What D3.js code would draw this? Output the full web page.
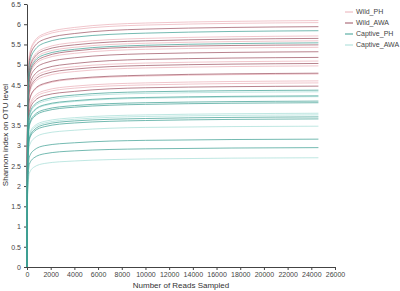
<!DOCTYPE html>
<html>
<head>
<meta charset="utf-8">
<script src="https://cdn.jsdelivr.net/npm/d3@7"></script>
<style>
  body { margin: 0; background: #fff; }
  svg { display: block; font-family: "Liberation Sans", Arial, sans-serif; }
</style>
</head>
<body>
<svg id="chart" width="400" height="291"></svg>
<script>
// sampling depths (reads) shared by every curve
const depths = [0, 40, 200, 600, 1500, 4000, 10000, 24600];

const groups = ['Wild_PH', 'Wild_AWA', 'Captive_PH', 'Captive_AWA'];

const wildPH = [
  [0, 3.65, 5.24, 5.57, 5.77, 5.92, 6.03, 6.09],
  [0, 3.62, 5.19, 5.53, 5.73, 5.87, 5.98, 6.04],
  [0, 3.43, 4.91, 5.22, 5.41, 5.55, 5.65, 5.71],
  [0, 3.35, 4.81, 5.11, 5.30, 5.43, 5.53, 5.59],
  [0, 3.26, 4.67, 4.97, 5.15, 5.28, 5.38, 5.43],
  [0, 3.05, 4.38, 4.66, 4.83, 4.95, 5.04, 5.09],
  [0, 2.98, 4.27, 4.55, 4.71, 4.83, 4.92, 4.97],
  [0, 2.86, 4.10, 4.36, 4.52, 4.64, 4.72, 4.77],
  [0, 2.76, 3.96, 4.21, 4.36, 4.47, 4.55, 4.60],
  [0, 2.73, 3.91, 4.16, 4.31, 4.42, 4.50, 4.55]
];
const wildAWA = [
  [0, 3.56, 5.11, 5.44, 5.63, 5.77, 5.88, 5.94],
  [0, 3.39, 4.86, 5.17, 5.36, 5.49, 5.59, 5.65],
  [0, 3.29, 4.72, 5.02, 5.20, 5.34, 5.44, 5.49],
  [0, 3.19, 4.58, 4.87, 5.04, 5.17, 5.27, 5.32],
  [0, 3.11, 4.45, 4.74, 4.91, 5.03, 5.13, 5.18],
  [0, 3.02, 4.33, 4.60, 4.77, 4.89, 4.98, 5.03],
  [0, 2.87, 4.12, 4.38, 4.54, 4.66, 4.74, 4.79],
  [0, 2.68, 3.84, 4.09, 4.24, 4.34, 4.43, 4.47]
];
const captivePH = [
  [0, 3.50, 5.02, 5.34, 5.54, 5.68, 5.78, 5.84],
  [0, 3.32, 4.76, 5.07, 5.25, 5.38, 5.48, 5.54],
  [0, 2.62, 3.76, 4.00, 4.14, 4.25, 4.33, 4.37],
  [0, 2.54, 3.64, 3.87, 4.01, 4.11, 4.19, 4.23],
  [0, 2.46, 3.53, 3.75, 3.89, 3.99, 4.06, 4.10],
  [0, 2.44, 3.49, 3.71, 3.85, 3.95, 4.02, 4.06],
  [0, 2.23, 3.19, 3.39, 3.52, 3.61, 3.67, 3.71],
  [0, 2.20, 3.15, 3.35, 3.47, 3.56, 3.62, 3.66],
  [0, 1.90, 2.72, 2.89, 3.00, 3.07, 3.13, 3.16],
  [0, 1.77, 2.54, 2.70, 2.80, 2.87, 2.92, 2.95]
];
const captiveAWA = [
  [0, 2.60, 3.72, 3.96, 4.10, 4.21, 4.29, 4.33],
  [0, 2.53, 3.62, 3.85, 3.99, 4.09, 4.17, 4.21],
  [0, 2.28, 3.27, 3.48, 3.60, 3.69, 3.76, 3.80],
  [0, 2.26, 3.23, 3.44, 3.56, 3.65, 3.72, 3.76],
  [0, 2.09, 2.99, 3.18, 3.30, 3.38, 3.45, 3.48],
  [0, 1.62, 2.32, 2.47, 2.56, 2.62, 2.67, 2.70]
];

const yTicks = [0, 0.5, 1, 1.5, 2, 2.5, 3, 3.5, 4, 4.5, 5, 5.5, 6, 6.5];
const xTicks = d3.range(0, 26001, 2000);

const colors = {
  'Wild_PH': '#eab0b8',
  'Wild_AWA': '#9c5262',
  'Captive_PH': '#3d9f93',
  'Captive_AWA': '#a6ddd7'
};

const svg = d3.select('#chart');

var x = d3.scaleLinear()
    .domain([0, 26000])
    .range([27, 335]);

var y = d3.scaleLinear()
    .domain([0, 6.5])
    .range([267, 4]);

/////////////////////////////
// AXES
/////////////////////////////
const xAxis = svg.append('g')
    .attr('transform', 'translate(0,267)')
    .call(d3.axisBottom(x).tickValues(xTicks).tickFormat(d3.format('d')).tickSize(3).tickSizeOuter(0));

const yAxis = svg.append('g')
    .attr('transform', 'translate(27,0)')
    .call(d3.axisLeft(y).tickValues(yTicks).tickFormat(d => d).tickSize(3).tickSizeOuter(0));

[xAxis, yAxis].forEach(a => {
    a.select('.domain').attr('stroke', '#444');
    a.selectAll('.tick line').attr('stroke', '#444');
    a.selectAll('.tick text')
        .attr('fill', '#444')
        .style('font-size', '7px');
});
xAxis.selectAll('.tick text').attr('y', 5);

svg.append('text')
    .attr('x', 181)
    .attr('y', 288)
    .attr('text-anchor', 'middle')
    .attr('fill', '#333')
    .style('font-size', '8px')
    .text('Number of Reads Sampled');

svg.append('text')
    .attr('transform', 'translate(8,135) rotate(-90)')
    .attr('text-anchor', 'middle')
    .attr('fill', '#333')
    .style('font-size', '8px')
    .text('Shannon index on OTU level');

/////////////////////////////
// CURVES
/////////////////////////////
const line = d3.line()
    .x((d, i) => x(depths[i]))
    .y(d => y(d))
    .curve(d3.curveMonotoneX);

// wild first, captive on top (the bottom of the rise shows teal)
const series = [
    ['Wild_PH', wildPH],
    ['Wild_AWA', wildAWA],
    ['Captive_AWA', captiveAWA],
    ['Captive_PH', captivePH]
];

series.forEach(([g, rows]) => {
    svg.append('g')
        .attr('class', 'curves')
        .selectAll('path')
        .data(rows)
        .enter()
        .append('path')
            .attr('d', line)
            .attr('fill', 'none')
            .attr('stroke', colors[g])
            .attr('stroke-width', 0.9)
            .attr('stroke-opacity', 0.8);
});

/////////////////////////////
// LEGEND
/////////////////////////////
const legend = svg.append('g')
    .attr('transform', 'translate(345,12)');

const item = legend.selectAll('g')
    .data(groups)
    .enter()
    .append('g')
        .attr('transform', (d, i) => 'translate(0,' + (i * 11) + ')');

item.append('line')
    .attr('x1', 0).attr('x2', 8)
    .attr('stroke', d => colors[d]);

item.append('text')
    .attr('x', 11)
    .attr('dy', '0.35em')
    .attr('fill', '#444')
    .style('font-size', '7px')
    .text(d => d);
</script>
</body>
</html>
